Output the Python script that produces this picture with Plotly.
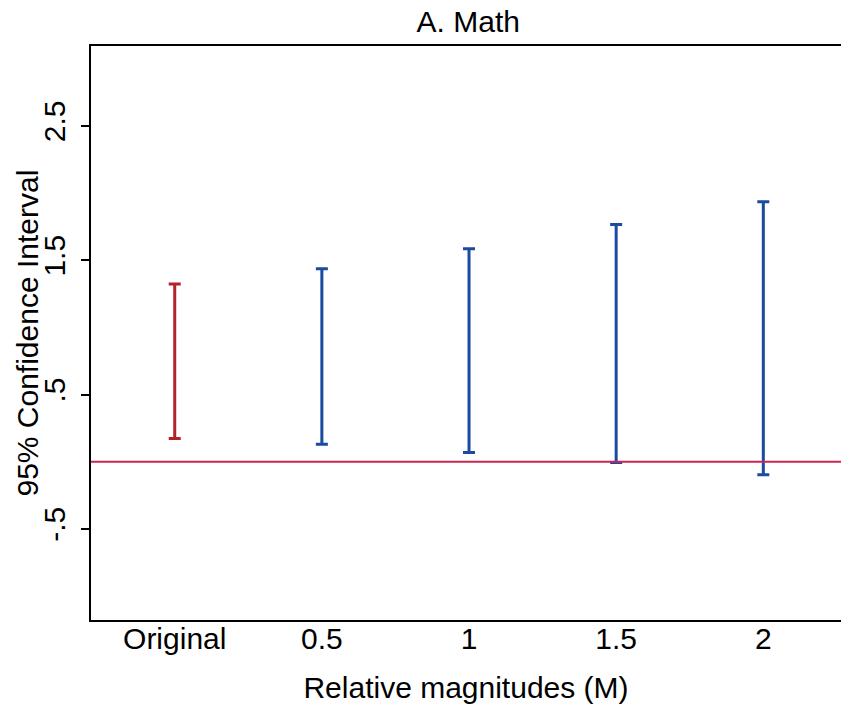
import plotly.graph_objects as go

categories = ["Original", "0.5", "1", "1.5", "2"]
lower = [0.173, 0.130, 0.068, -0.006, -0.098]
upper = [1.323, 1.437, 1.586, 1.765, 1.936]
bar_colors = ["#B22229", "#1A4BA1", "#1A4BA1", "#1A4BA1", "#1A4BA1"]
ytick_vals = [-0.5, 0.5, 1.5, 2.5]
ytick_text = ["-.5", ".5", "1.5", "2.5"]

FONT = "Liberation Sans, Arial, sans-serif"
FS = 30

fig = go.Figure()
xs = list(range(len(categories)))
for i, cat in enumerate(categories):
    fig.add_trace(go.Scatter(
        x=[xs[i]], y=[upper[i]],
        mode="markers",
        marker=dict(size=1, color="rgba(0,0,0,0)"),
        error_y=dict(type="data", symmetric=False, array=[0],
                     arrayminus=[upper[i] - lower[i]],
                     color=bar_colors[i], thickness=3, width=6),
        showlegend=False, name=cat, hoverinfo="skip",
    ))

fig.add_shape(type="line", xref="paper", x0=0, x1=1, yref="y", y0=0, y1=0,
              line=dict(color="#C8264F", width=2), layer="above")

fig.add_annotation(text="95% Confidence Interval", textangle=-90,
                   xref="paper", yref="paper", x=(26 - 90.5) / 750.5, y=0.5,
                   xanchor="center", yanchor="middle", showarrow=False,
                   font=dict(family=FONT, size=FS, color="black"))

fig.update_layout(
    width=841, height=711,
    margin=dict(l=90.5, r=0, t=45.5, b=91),
    paper_bgcolor="white", plot_bgcolor="white",
    font=dict(family=FONT, size=FS, color="black"),
    title=dict(text="A. Math", x=0.503, xanchor="center", xref="paper",
               y=1 - 21 / 711, yref="container", yanchor="middle",
               font=dict(size=FS, color="black")),
    xaxis=dict(range=[-0.569, 4.528], tickvals=xs, ticktext=categories,
               showgrid=False, zeroline=False, showline=True, linecolor="black",
               linewidth=2, mirror=True, ticks="",
               ticklabelstandoff=-9,
               tickfont=dict(size=FS),
               title=dict(text="Relative magnitudes (M)", font=dict(size=FS), standoff=23)),
    yaxis=dict(range=[-1.179, 3.095], tickvals=ytick_vals, ticktext=ytick_text,
               tickangle=-90, showgrid=False, zeroline=False, showline=True,
               linecolor="black", linewidth=2, ticks="outside", ticklen=8,
               tickwidth=1.5, tickcolor="black", tickfont=dict(size=FS),
               ticklabelstandoff=4),
)

fig.write_html("out.html")
